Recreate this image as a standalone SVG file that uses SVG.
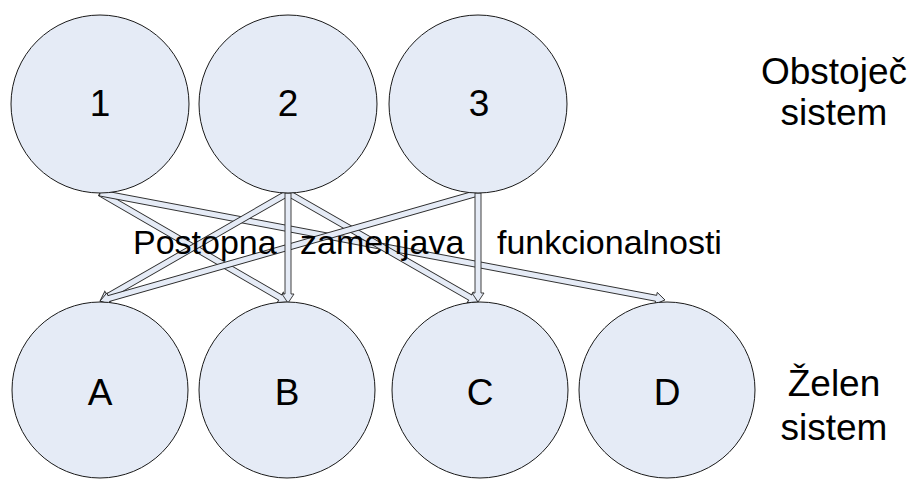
<svg xmlns="http://www.w3.org/2000/svg" width="912" height="480" viewBox="0 0 912 480">
  <style>
    .node circle { fill: #e5ebf6; stroke: #1a1a1a; stroke-width: 1; }
    .node text, .label { font-family: "Liberation Sans", Arial, sans-serif; fill: #000; }
    .node text { font-size: 37px; text-anchor: middle; }
    .label { font-size: 34px; }
    .side { font-size: 37px; text-anchor: middle; }
    .arrow { fill: #e5ebf6; stroke: #2a2a2a; stroke-width: 0.9; stroke-linejoin: miter; }
  </style>
  <rect width="912" height="480" fill="#ffffff"/>

  <!-- connectors: hollow block arrows from the top row to the bottom row -->
  <g id="connectors">
    <!-- 1 -> B -->
    <g transform="translate(100,193) rotate(30.1)">
      <polygon class="arrow" points="0,-3 208.3,-3 208.3,-6 217.3,0 208.3,6 208.3,3 0,3"/>
    </g>
    <!-- 1 -> D -->
    <g transform="translate(100,193) rotate(10.72)">
      <polygon class="arrow" points="0,-3 566,-3 566,-6 575,0 566,6 566,3 0,3"/>
    </g>
    <!-- 2 -> A -->
    <g transform="translate(288,193) rotate(150.12)">
      <polygon class="arrow" points="0,-3 207.8,-3 207.8,-6 216.8,0 207.8,6 207.8,3 0,3"/>
    </g>
    <!-- 2 -> C -->
    <g transform="translate(288,193) rotate(29.84)">
      <polygon class="arrow" points="0,-3 210,-3 210,-6 219,0 210,6 210,3 0,3"/>
    </g>
    <!-- 3 -> A -->
    <g transform="translate(478,193) rotate(164.05)">
      <polygon class="arrow" points="0,-3 384.1,-3 384.1,-6 393.1,0 384.1,6 384.1,3 0,3"/>
    </g>
    <!-- 2 -> B -->
    <g transform="translate(288,193) rotate(90)">
      <polygon class="arrow" points="0,-3 101,-3 101,-6 110,0 101,6 101,3 0,3"/>
    </g>
    <!-- 3 -> C -->
    <g transform="translate(478,193) rotate(90)">
      <polygon class="arrow" points="0,-3 100,-3 100,-6 109,0 100,6 100,3 0,3"/>
    </g>
  </g>

  <!-- existing system -->
  <g id="node-1" class="node">
    <circle cx="100" cy="104" r="89"/>
    <text x="100" y="116">1</text>
  </g>
  <g id="node-2" class="node">
    <circle cx="288" cy="104" r="89"/>
    <text x="288" y="116">2</text>
  </g>
  <g id="node-3" class="node">
    <circle cx="478" cy="104" r="89"/>
    <text x="479" y="116">3</text>
  </g>

  <!-- target system -->
  <g id="node-A" class="node">
    <circle cx="100" cy="390" r="88"/>
    <text x="100" y="405">A</text>
  </g>
  <g id="node-B" class="node">
    <circle cx="287" cy="390" r="88"/>
    <text x="287" y="405">B</text>
  </g>
  <g id="node-C" class="node">
    <circle cx="480" cy="390" r="88"/>
    <text x="480" y="405">C</text>
  </g>
  <g id="node-D" class="node">
    <circle cx="667" cy="390" r="88"/>
    <text x="667" y="405">D</text>
  </g>

  <!-- caption across the connectors -->
  <g id="caption">
    <text class="label" x="133" y="254">Postopna</text>
    <text class="label" x="300" y="254">zamenjava</text>
    <text class="label" x="497" y="254">funkcionalnosti</text>
  </g>

  <!-- row labels -->
  <g id="row-labels">
    <text class="label side" x="834" y="84">Obstoječ</text>
    <text class="label side" x="834" y="125">sistem</text>
    <text class="label side" x="834" y="396">Želen</text>
    <text class="label side" x="834" y="440">sistem</text>
  </g>
</svg>
